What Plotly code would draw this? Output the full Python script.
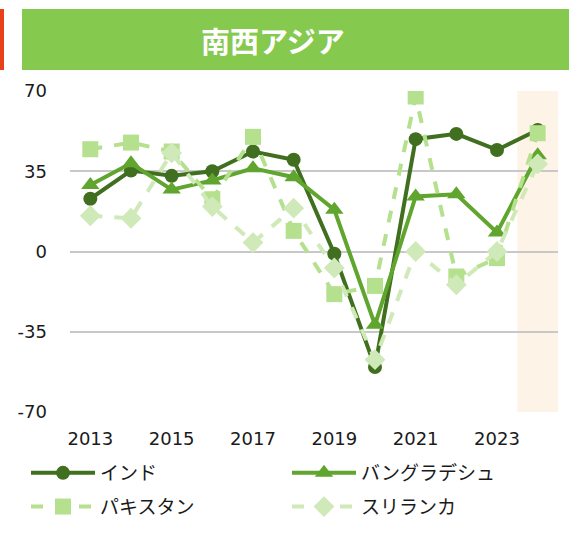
import plotly.graph_objects as go

years = [2013, 2014, 2015, 2016, 2017, 2018, 2019, 2020, 2021, 2022, 2023, 2024]
india = [23, 35.3, 33, 35, 43.6, 40, -1, -50.4, 49, 51.3, 44.3, 53]
bangladesh = [29, 38.5, 27, 31, 36.3, 32.4, 18.2, -32, 24, 25, 8.3, 42]
pakistan = [44.6, 47.5, 43.6, 22.8, 50, 9, -18.6, -15, 67.6, -10.9, -2.9, 51.6]
srilanka = [15.6, 14.5, 43, 19.6, 3.9, 18.9, -7.2, -47.2, 0, -14.5, 0, 38.2]
y_ticks = [-70, -35, 0, 35, 70]
y_tick_labels = ["-70", "-35", "0", "35", "70"]
x_ticks = [2013, 2015, 2017, 2019, 2021, 2023]
highlight_year = 2024
title_text = "南西アジア"

W, H = 569, 557
PL, PR, PT, PB = 70, 558, 91, 412  # plot area in page pixels
PW, PH = PR - PL, PB - PT


def px(x):
    return (x - PL) / PW


def py(y):
    return (PB - y) / PH


fig = go.Figure()

series = [
    ("インド", india, "#3f6f1f", "solid", "circle", 14, "legend"),
    ("バングラデシュ", bangladesh, "#5fa52e", "solid", "triangle-up", 16, "legend2"),
    ("パキスタン", pakistan, "#b5e08e", "dash", "square", 16, "legend"),
    ("スリランカ", srilanka, "#cfe9b8", "dash", "diamond", 16, "legend2"),
]
for i, (name, vals, color, dash, sym, size, lg) in enumerate(series):
    fig.add_trace(go.Scatter(
        x=years, y=vals, name=name, mode="lines+markers",
        line=dict(color=color, width=4, dash=dash),
        marker=dict(symbol=sym, size=size, color=color),
        legend=lg, legendgroup=f"g{i}",
    ))

# highlight band for last year
fig.add_shape(type="rect", xref="x", yref="paper",
              x0=highlight_year - 0.5, x1=highlight_year + 0.5, y0=0, y1=1,
              fillcolor="#fdf3e6", line=dict(width=0), layer="below")

# title banner
fig.add_shape(type="rect", xref="paper", yref="paper",
              x0=px(22), x1=px(575), y0=py(70), y1=py(9),
              fillcolor="#85c94f", line=dict(width=0))
fig.add_shape(type="rect", xref="paper", yref="paper",
              x0=px(-5), x1=px(4), y0=py(70), y1=py(9),
              fillcolor="#e8401c", line=dict(width=0))
fig.add_annotation(text=f"<b>{title_text}</b>", xref="paper", yref="paper",
                   x=px(273), y=py(40),
                   xanchor="center", yanchor="middle", showarrow=False,
                   font=dict(family="Noto Sans CJK JP", size=29, color="white"))

fig.update_xaxes(range=[2012.5, 2024.5], tickvals=x_ticks,
                 ticktext=[str(v) for v in x_ticks],
                 showgrid=False, zeroline=False, showline=False,
                 ticks="", ticklabelstandoff=14,
                 tickfont=dict(family="DejaVu Sans", size=18, color="#1a1a1a"))
fig.update_yaxes(range=[-70, 70], tickvals=y_ticks, ticktext=y_tick_labels,
                 showgrid=True, gridcolor="#c8c8c8", gridwidth=1.5,
                 zeroline=False, showline=False, ticks="",
                 ticklabelstandoff=22,
                 tickfont=dict(family="DejaVu Sans", size=18, color="#1a1a1a"))

leg_common = dict(orientation="v", xanchor="left", yanchor="top",
                  itemwidth=64, tracegroupgap=6,
                  font=dict(family="Noto Sans CJK JP", size=19, color="#1a1a1a"),
                  bgcolor="rgba(0,0,0,0)")

fig.update_layout(
    width=W, height=H,
    margin=dict(l=PL, r=W - PR, t=PT, b=H - PB, autoexpand=False),
    plot_bgcolor="white", paper_bgcolor="white",
    showlegend=True,
    legend=dict(x=px(26), y=py(454), **leg_common),
    legend2=dict(x=px(287), y=py(454), **leg_common),
)

fig.write_html("out.html",
               config={"displayModeBar": False},
               post_script="document.body.style.margin='0';document.body.style.overflow='hidden';")
